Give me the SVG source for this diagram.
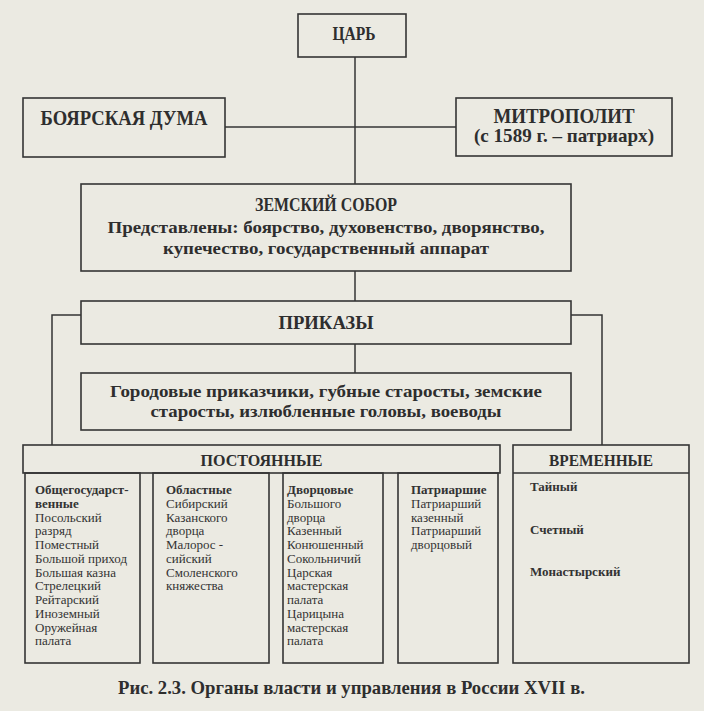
<svg xmlns="http://www.w3.org/2000/svg" width="704" height="711" viewBox="0 0 704 711">
<style>
.bx{fill:none;stroke:#353535;stroke-width:1.6}
.ln{fill:none;stroke:#353535;stroke-width:1.5}
.h{font-family:"Liberation Serif","Times New Roman",serif;font-weight:bold;fill:#2e2e2e;text-anchor:middle}
.t{font-family:"Liberation Serif","Times New Roman",serif;font-size:13px;fill:#333}
.b{font-weight:bold}
</style>
<rect x="0" y="0" width="704" height="711" fill="#ebeae2"/>
<g id="connectors">
<path class="ln" d="M355 57 V184"/>
<path class="ln" d="M225 127 H456"/>
<path class="ln" d="M355 271 V301"/>
<path class="ln" d="M355 344 V373"/>
<path class="ln" d="M81 315 H52 V445"/>
<path class="ln" d="M571 315 H602 V445"/>
</g>
<g id="tsar">
<rect class="bx" x="298" y="14" width="108" height="43"/>
<text class="h" x="354" y="40" font-size="19" textLength="43" lengthAdjust="spacingAndGlyphs">ЦАРЬ</text>
</g>
<g id="duma">
<rect class="bx" x="23" y="98" width="202" height="59"/>
<text class="h" x="124" y="125" font-size="20" textLength="167" lengthAdjust="spacingAndGlyphs">БОЯРСКАЯ ДУМА</text>
</g>
<g id="metropolitan">
<rect class="bx" x="456" y="98" width="216" height="58"/>
<text class="h" x="564" y="123" font-size="20" textLength="141" lengthAdjust="spacingAndGlyphs">МИТРОПОЛИТ</text>
<text class="h" x="564" y="142" font-size="19" textLength="180" lengthAdjust="spacingAndGlyphs">(с 1589 г. – патриарх)</text>
</g>
<g id="zemsky-sobor">
<rect class="bx" x="81" y="184" width="490" height="87"/>
<text class="h" x="326" y="211" font-size="19" textLength="142" lengthAdjust="spacingAndGlyphs">ЗЕМСКИЙ СОБОР</text>
<text class="h" x="326" y="233" font-size="17.5" textLength="437" lengthAdjust="spacingAndGlyphs">Представлены: боярство, духовенство, дворянство,</text>
<text class="h" x="326" y="254" font-size="17.5" textLength="326" lengthAdjust="spacingAndGlyphs">купечество, государственный аппарат</text>
</g>
<g id="prikazy">
<rect class="bx" x="81" y="301" width="490" height="43"/>
<text class="h" x="326" y="329" font-size="19" textLength="95" lengthAdjust="spacingAndGlyphs">ПРИКАЗЫ</text>
</g>
<g id="local">
<rect class="bx" x="81" y="373" width="490" height="57"/>
<text class="h" x="326" y="397" font-size="17" textLength="432" lengthAdjust="spacingAndGlyphs">Городовые приказчики, губные старосты, земские</text>
<text class="h" x="326" y="417" font-size="17" textLength="351" lengthAdjust="spacingAndGlyphs">старосты, излюбленные головы, воеводы</text>
</g>
<g id="permanent">
<rect class="bx" x="23" y="445" width="477" height="28"/>
<text class="h" x="261.5" y="466" font-size="17" textLength="122" lengthAdjust="spacingAndGlyphs">ПОСТОЯННЫЕ</text>
</g>
<g id="col-general">
<rect class="bx" x="25" y="473" width="115" height="190"/>
<text class="t" x="35" y="494"><tspan class="b">Общегосударст-</tspan><tspan class="b" x="35" dy="13.75">венные</tspan><tspan x="35" dy="13.75">Посольский</tspan><tspan x="35" dy="13.75">разряд</tspan><tspan x="35" dy="13.75">Поместный</tspan><tspan x="35" dy="13.75">Большой приход</tspan><tspan x="35" dy="13.75">Большая казна</tspan><tspan x="35" dy="13.75">Стрелецкий</tspan><tspan x="35" dy="13.75">Рейтарский</tspan><tspan x="35" dy="13.75">Иноземный</tspan><tspan x="35" dy="13.75">Оружейная</tspan><tspan x="35" dy="13.75">палата</tspan></text>
</g>
<g id="col-regional">
<rect class="bx" x="153" y="473" width="116" height="190"/>
<text class="t" x="166" y="494"><tspan class="b">Областные</tspan><tspan x="166" dy="13.75">Сибирский</tspan><tspan x="166" dy="13.75">Казанского</tspan><tspan x="166" dy="13.75">дворца</tspan><tspan x="166" dy="13.75">Малорос -</tspan><tspan x="166" dy="13.75">сийский</tspan><tspan x="166" dy="13.75">Смоленского</tspan><tspan x="166" dy="13.75">княжества</tspan></text>
</g>
<g id="col-palace">
<rect class="bx" x="283" y="473" width="100" height="190"/>
<text class="t" x="287" y="494"><tspan class="b">Дворцовые</tspan><tspan x="287" dy="13.75">Большого</tspan><tspan x="287" dy="13.75">дворца</tspan><tspan x="287" dy="13.75">Казенный</tspan><tspan x="287" dy="13.75">Конюшенный</tspan><tspan x="287" dy="13.75">Сокольничий</tspan><tspan x="287" dy="13.75">Царская</tspan><tspan x="287" dy="13.75">мастерская</tspan><tspan x="287" dy="13.75">палата</tspan><tspan x="287" dy="13.75">Царицына</tspan><tspan x="287" dy="13.75">мастерская</tspan><tspan x="287" dy="13.75">палата</tspan></text>
</g>
<g id="col-patriarch">
<rect class="bx" x="398" y="473" width="100" height="190"/>
<text class="t" x="411" y="494"><tspan class="b">Патриаршие</tspan><tspan x="411" dy="13.75">Патриарший</tspan><tspan x="411" dy="13.75">казенный</tspan><tspan x="411" dy="13.75">Патриарший</tspan><tspan x="411" dy="13.75">дворцовый</tspan></text>
</g>
<g id="temporary">
<rect class="bx" x="513" y="445" width="176" height="218"/>
<path class="ln" d="M513 473 H689"/>
<text class="h" x="601" y="466" font-size="17" textLength="104" lengthAdjust="spacingAndGlyphs">ВРЕМЕННЫЕ</text>
<text class="t b" x="530" y="491">Тайный</text>
<text class="t b" x="530" y="534">Счетный</text>
<text class="t b" x="530" y="576">Монастырский</text>
</g>
<text class="h" x="351.5" y="694" font-size="19.5" textLength="467" lengthAdjust="spacingAndGlyphs">Рис. 2.3. Органы власти и управления в России XVII в.</text>
</svg>
